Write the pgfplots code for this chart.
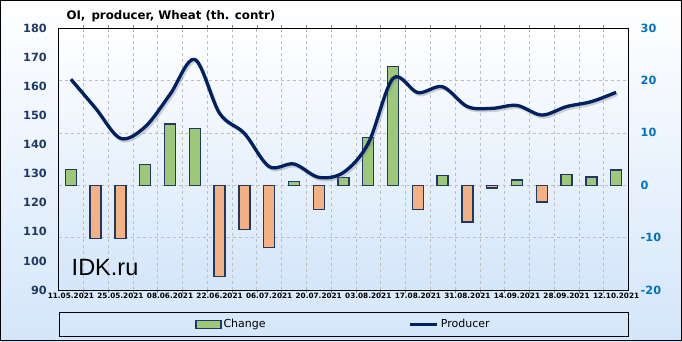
\documentclass[border=0pt]{standalone}
\usepackage{fontspec}
\setmainfont{DejaVu Sans}
\newfontfamily\arialf{Liberation Sans}
\usepackage{pgfplots}
\pgfplotsset{compat=1.18}
\definecolor{barG}{RGB}{156,200,120}
\definecolor{barO}{RGB}{244,177,131}
\definecolor{barB}{RGB}{31,56,100}
\definecolor{lineC}{RGB}{0,32,96}
\definecolor{leftC}{RGB}{31,56,100}
\definecolor{rightC}{RGB}{0,112,192}
\definecolor{bgB}{RGB}{212,230,250}
\definecolor{gridC}{RGB}{190,190,190}
\pgfplotsset{
  barleg/.style={legend image code/.code={\draw[##1] (0pt,-4pt) rectangle (25pt,4pt);}},
  lineleg/.style={legend image code/.code={\draw[##1] (0pt,0pt) -- (27pt,0pt);}},
}
\begin{document}
\begin{tikzpicture}
\useasboundingbox (0,0) rectangle (682pt,341pt);
\shade[top color=white, bottom color=bgB] (0,0) rectangle (682pt,341pt);
\draw[black, line width=0.8pt] (0.4pt,0.4pt) rectangle (681.6pt,340.6pt);
\node[anchor=base west, font=\bfseries\fontsize{11.8}{14}\selectfont] at (63pt,322pt) {OI,\, producer, Wheat (th. contr)};
\draw[black, line width=0.8pt] (59.5pt,4.5pt) rectangle (628pt,29pt);
\begin{axis}[
  at={(58.5pt,51pt)}, anchor=south west,
  scale only axis, width=570pt, height=262pt,
  xmin=-0.5, xmax=22.5, ymin=-20, ymax=30,
  ybar, bar width=11pt,
  axis background/.style={shade, top color=white, middle color=white, bottom color=bgB},
  axis line style={black, line width=0.9pt},
  xtick={0,2,...,22},
  xticklabels={11.05.2021,25.05.2021,08.06.2021,22.06.2021,06.07.2021,20.07.2021,03.08.2021,17.08.2021,31.08.2021,14.09.2021,28.09.2021,12.10.2021},
  minor xtick={0.5,1.5,...,21.5},
  xminorgrids, yminorgrids=false,
  minor grid style={gridC, dashed, line width=0.6pt},
  minor tick length=3pt,
  minor tick style={gray, line width=0.5pt},
  major tick length=0pt,
  ytick={-20,-10,0,10,20,30},
  ymajorgrids, major grid style={gridC, dashed, line width=0.6pt},
  yticklabel pos=right,
  /pgf/number format/assume math mode=true,
  yticklabel style={font=\bfseries\fontsize{11.3}{12}\selectfont, text=rightC, anchor=west, inner sep=0pt, xshift=12pt},
  xticklabel style={font=\bfseries\fontsize{7.3}{8}\selectfont, inner sep=1pt, yshift=-1.5pt},
]
\addplot[bar shift=0pt, fill=barG, draw=barB, line width=1.4pt] coordinates {
 (0,3.0) (3,4.0) (4,11.7) (5,10.8) (9,0.7) (11,1.5) (12,9.1) (13,22.6) (15,1.9) (18,1.0) (20,2.1) (21,1.6) (22,2.9)};
\addplot[bar shift=0pt, fill=barO, draw=barB, line width=1.4pt] coordinates {
 (1,-10.2) (2,-10.2) (6,-17.4) (7,-8.4) (8,-11.9) (10,-4.6) (14,-4.6) (16,-7.0) (17,-0.5) (19,-3.2)};
\node[anchor=base west, font=\arialf\fontsize{23.5}{26}\selectfont] at (rel axis cs:0.017,0.057) {IDK.ru};
\end{axis}
\begin{axis}[
  at={(58.5pt,51pt)}, anchor=south west,
  scale only axis, width=570pt, height=262pt,
  xmin=-0.5, xmax=22.5, ymin=90, ymax=180,
  hide x axis,
  axis y line*=left,
  axis line style={black, line width=0.9pt},
  ytick={90,100,...,180},
  major tick length=0pt,
  /pgf/number format/assume math mode=true,
  yticklabel style={font=\bfseries\fontsize{11.3}{12}\selectfont, text=leftC, anchor=east, inner sep=0pt, xshift=-11.5pt},
  legend columns=2,
  legend style={at={(0.5,-0.1317)}, anchor=center, draw=none, fill=none,
    font=\fontsize{11}{12}\selectfont, inner sep=1pt,
    /tikz/every even column/.append style={column sep=141pt}},
]
\addlegendimage{fill=barG, draw=barB, line width=1.2pt, barleg}
\addlegendentry{Change}
\addplot[gray, opacity=0.35, line width=3.2pt, smooth, tension=0.55, xshift=1.5pt, yshift=-2pt, forget plot] coordinates {
 (0,162.4) (1,152.4) (2,142.1) (3,146.1) (4,157.2) (5,169.2) (6,150.7) (7,143.8) (8,132.4) (9,133.3) (10,128.7) (11,130.4)
 (12,140.4) (13,162.7) (14,157.8) (15,159.8) (16,153.0) (17,152.4) (18,153.4) (19,150.1) (20,153.0) (21,154.7) (22,157.9)};
\addplot[lineC, line width=3.3pt, smooth, tension=0.55, lineleg] coordinates {
 (0,162.4) (1,152.4) (2,142.1) (3,146.1) (4,157.2) (5,169.2) (6,150.7) (7,143.8) (8,132.4) (9,133.3) (10,128.7) (11,130.4)
 (12,140.4) (13,162.7) (14,157.8) (15,159.8) (16,153.0) (17,152.4) (18,153.4) (19,150.1) (20,153.0) (21,154.7) (22,157.9)};
\addlegendentry{Producer}
\end{axis}
\end{tikzpicture}
\end{document}
